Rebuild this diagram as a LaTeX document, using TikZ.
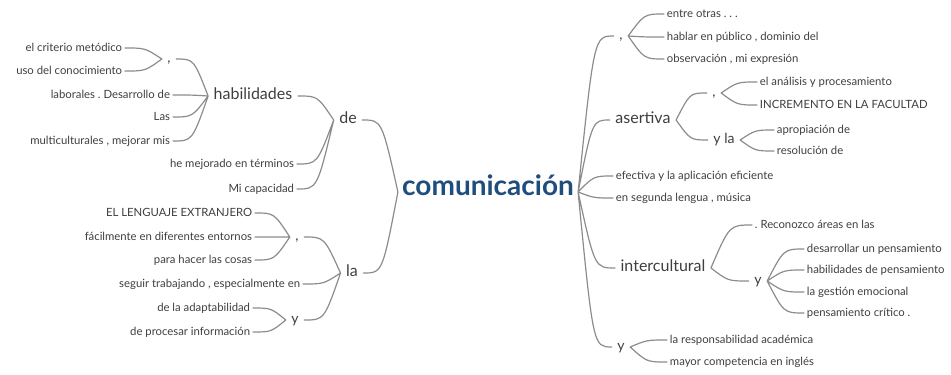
\documentclass[tikz,border=0pt]{standalone}
\usepackage{fontspec}
\setmainfont{Lato}
\frenchspacing
\usetikzlibrary{calc}
\definecolor{txtgray}{RGB}{62,62,62}
\definecolor{lnkgray}{RGB}{140,140,140}
\definecolor{rootblue}{RGB}{31,78,126}
\tikzset{
  leaf/.style={font=\fontsize{8.5}{10}\selectfont, text=txtgray, inner xsep=2pt, inner ysep=0pt, text height=0.7em, text depth=0.2em},
  mid/.style={font=\fontsize{12}{14}\selectfont, text=txtgray, inner xsep=4pt, inner ysep=0pt, text height=0.7em, text depth=0.2em},
  conn/.style={font=\fontsize{10.5}{12}\selectfont, text=txtgray, inner xsep=4pt, inner ysep=0pt, text height=0.7em, text depth=0.2em},
  root/.style={font=\fontsize{21}{24}\selectfont\bfseries, text=rootblue, inner xsep=3pt, inner ysep=0pt, text height=0.7em, text depth=0.2em},
  link/.style={draw=lnkgray, line width=0.9pt, line cap=round},
  branch/.style={to path={let \p1=(\tikztostart), \p2=(\tikztotarget) in
    .. controls ({\x1+0.45*(\x2-\x1)},\y2) .. (\p2) \tikztonodes}},
}
\begin{document}
\begin{tikzpicture}[x=0.75pt,y=-0.75pt]
\useasboundingbox (0,0) rectangle (951,375);
\node [root] (com) at (488,192) {comunicación};
% left side
\node [mid] (de) at (348,120) {de};
\node [mid] (la) at (352,273) {la};
\node [mid] (hab) at (253,96) {habilidades};
\node [conn] (c1) at (169,59) {,};
\node [leaf, anchor=east] (crit) at (125,48) {el criterio metódico};
\node [leaf, anchor=east] (uso) at (125,71) {uso del conocimiento};
\node [leaf, anchor=east] (lab) at (173,95) {laborales . Desarrollo de};
\node [leaf, anchor=east] (las) at (173,117) {Las};
\node [leaf, anchor=east] (mult) at (173,141) {multiculturales , mejorar mis};
\node [leaf, anchor=east] (mej) at (297,164) {he mejorado en términos};
\node [leaf, anchor=east] (cap) at (297,189) {Mi capacidad};
\node [conn] (c2) at (297,237) {,};
\node [leaf, anchor=east] (leng) at (255,213) {EL LENGUAJE EXTRANJERO};
\node [leaf, anchor=east] (facil) at (255,237) {fácilmente en diferentes entornos};
\node [leaf, anchor=east] (para) at (255,260) {para hacer las cosas};
\node [leaf, anchor=east] (seg) at (303,284) {seguir trabajando , especialmente en};
\node [conn] (y1) at (295,320) {y};
\node [leaf, anchor=east] (adap) at (253,308) {de la adaptabilidad};
\node [leaf, anchor=east] (proc) at (253,332) {de procesar información};
% right side
\node [conn] (c3) at (621,36) {,};
\node [leaf, anchor=west] (entre) at (664,14) {entre otras . . .};
\node [leaf, anchor=west] (hablar) at (664,37) {hablar en público , dominio del};
\node [leaf, anchor=west] (obs) at (664,59) {observación , mi expresión};
\node [mid] (aser) at (643,120) {asertiva};
\node [conn] (c4) at (714,93) {,};
\node [leaf, anchor=west] (anal) at (757,82) {el análisis y procesamiento};
\node [leaf, anchor=west] (incr) at (757,105) {INCREMENTO EN LA FACULTAD};
\node [conn] (yla) at (724,140) {y la};
\node [leaf, anchor=west] (apro) at (774,130) {apropiación de};
\node [leaf, anchor=west] (reso) at (774,151) {resolución de};
\node [leaf, anchor=west] (efec) at (613,176) {efectiva y la aplicación eficiente};
\node [leaf, anchor=west] (segl) at (613,198) {en segunda lengua , música};
\node [mid] (inter) at (663,268) {intercultural};
\node [leaf, anchor=west] (reco) at (752,225) {. Reconozco áreas en las};
\node [conn] (y2) at (758,281) {y};
\node [leaf, anchor=west] (desa) at (804,249) {desarrollar un pensamiento};
\node [leaf, anchor=west] (habp) at (804,270) {habilidades de pensamiento};
\node [leaf, anchor=west] (gest) at (804,292) {la gestión emocional};
\node [leaf, anchor=west] (pcrit) at (804,313) {pensamiento crítico .};
\node [conn] (y3) at (621,347) {y};
\node [leaf, anchor=west] (resp) at (667,340) {la responsabilidad académica};
\node [leaf, anchor=west] (mayor) at (667,362) {mayor competencia en inglés};
% connectors
\draw [link] (com.west) to[branch] (de.east) (com.west) to[branch] (la.east);
\draw [link] (de.west) to[branch] (hab.east) (de.west) to[branch] (mej.east) (de.west) to[branch] (cap.east);
\draw [link] (hab.west) to[branch] (c1.east) (hab.west) to[branch] (lab.east) (hab.west) to[branch] (las.east) (hab.west) to[branch] (mult.east);
\draw [link] (c1.west) to[branch] (crit.east) (c1.west) to[branch] (uso.east);
\draw [link] (la.west) to[branch] (c2.east) (la.west) to[branch] (seg.east) (la.west) to[branch] (y1.east);
\draw [link] (c2.west) to[branch] (leng.east) (c2.west) to[branch] (facil.east) (c2.west) to[branch] (para.east);
\draw [link] (y1.west) to[branch] (adap.east) (y1.west) to[branch] (proc.east);
\draw [link] (com.east) to[branch] (c3.west) (com.east) to[branch] (aser.west) (com.east) to[branch] (efec.west);
\draw [link] (com.east) to[branch] (segl.west) (com.east) to[branch] (inter.west) (com.east) to[branch] (y3.west);
\draw [link] (c3.east) to[branch] (entre.west) (c3.east) to[branch] (hablar.west) (c3.east) to[branch] (obs.west);
\draw [link] (aser.east) to[branch] (c4.west) (aser.east) to[branch] (yla.west);
\draw [link] (c4.east) to[branch] (anal.west) (c4.east) to[branch] (incr.west);
\draw [link] (yla.east) to[branch] (apro.west) (yla.east) to[branch] (reso.west);
\draw [link] (inter.east) to[branch] (reco.west) (inter.east) to[branch] (y2.west);
\draw [link] (y2.east) to[branch] (desa.west) (y2.east) to[branch] (habp.west) (y2.east) to[branch] (gest.west) (y2.east) to[branch] (pcrit.west);
\draw [link] (y3.east) to[branch] (resp.west) (y3.east) to[branch] (mayor.west);
\end{tikzpicture}
\end{document}
